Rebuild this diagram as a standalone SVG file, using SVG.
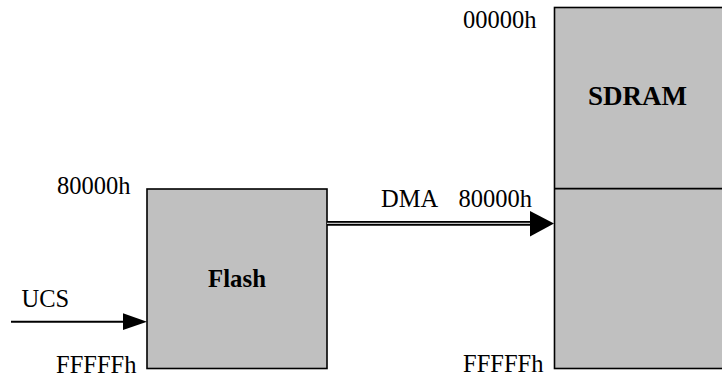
<svg xmlns="http://www.w3.org/2000/svg" width="722" height="377" viewBox="0 0 722 377">
<defs>
<style>
.box{fill:#c0c0c0;stroke:#000;stroke-width:1.6}
.t{font-family:"Liberation Serif","Times New Roman",serif;font-size:24.5px;fill:#000}
.b{font-weight:bold}
</style>
</defs>
<rect width="722" height="377" fill="#fff"/>
<g id="flash">
<rect class="box" x="147" y="189" width="180" height="179.5"/>
<text class="t b" x="237" y="287" text-anchor="middle" style="font-size:24.8px">Flash</text>
<text class="t" x="57" y="194">80000h</text>
<text class="t" x="56" y="373">FFFFFh</text>
</g>
<g id="sdram">
<rect class="box" x="554.5" y="7.5" width="180" height="361"/>
<line x1="554.5" y1="188.7" x2="730" y2="188.7" stroke="#000" stroke-width="1.8"/>
<text class="t b" x="637.5" y="105" text-anchor="middle" style="font-size:27px">SDRAM</text>
<text class="t" x="463" y="28">00000h</text>
<text class="t" x="458.5" y="207">80000h</text>
<text class="t" x="463" y="372">FFFFFh</text>
</g>
<g id="connectors">
<g id="dma">
<line x1="327" y1="223.4" x2="532" y2="223.4" stroke="#000" stroke-width="4.6"/>
<line x1="327" y1="223.4" x2="532" y2="223.4" stroke="#c0c0c0" stroke-width="1.4"/>
<polygon points="530,211 554,223.5 530,236.5" fill="#000"/>
<text class="t" x="381" y="207">DMA</text>
</g>
<g id="ucs">
<line x1="11" y1="321.7" x2="126" y2="321.7" stroke="#000" stroke-width="2"/>
<polygon points="123,313.3 147,321.7 123,330" fill="#000"/>
<text class="t" x="21.5" y="307">UCS</text>
</g>
</g>
</svg>
